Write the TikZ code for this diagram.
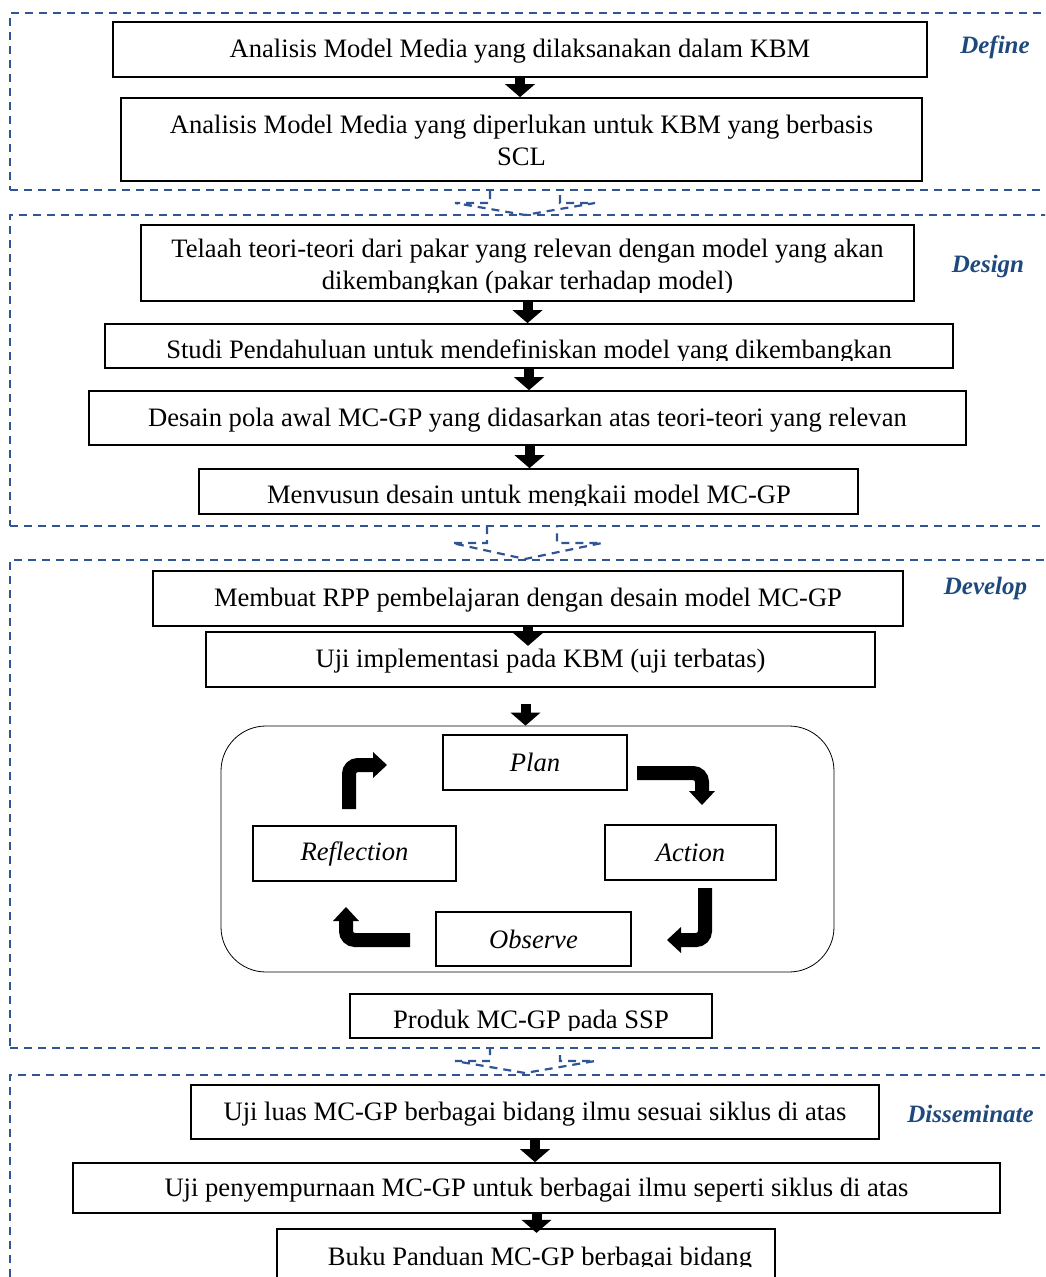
\documentclass[tikz,border=0pt]{standalone}
\usepackage{fontspec}
\setmainfont{Liberation Serif}
\usetikzlibrary{arrows.meta,calc}
\definecolor{phase}{RGB}{47,85,151}
\definecolor{phasetext}{RGB}{31,73,125}
\begin{document}
\begin{tikzpicture}[x=1pt,y=-1pt,
  font=\fontsize{26.6pt}{32pt}\selectfont,
  phasebox/.style={draw=phase, line width=2.2pt, dash pattern=on 8pt off 6pt,
    rectangle, inner sep=0pt, outer sep=0pt, anchor=north west},
  phaseline/.style={draw=phase, line width=2.2pt, dash pattern=on 8pt off 6pt},
  stepbox/.style={draw, line width=1.7pt, rectangle, inner sep=0pt, fill=white,
    text height=18pt, text depth=2pt},
  cyclebox/.style={draw, line width=1.3pt, rectangle, inner sep=0pt, fill=white,
    font=\fontsize{26.6pt}{32pt}\selectfont\itshape},
  txt/.style={inner sep=0pt, anchor=base},
  lbl/.style={inner sep=0pt, anchor=base, text=phasetext,
    font=\fontsize{25pt}{30pt}\selectfont\bfseries\itshape},
  conn/.style={line width=10pt, -{Triangle[width=30pt,length=13pt,line width=0pt]}},
  bent/.style={line width=14pt, rounded corners=9pt,
    -{Triangle[width=26pt,length=14pt,line width=0pt]}}]

\useasboundingbox (0,0) rectangle (1045,1277);
\clip (0,0) rectangle (1045,1277);

% ---------- phase frames ----------
\node[phasebox, minimum width=1050pt, minimum height=177pt] (sdef) at (10,13) {};
\node[phasebox, minimum width=1050pt, minimum height=311pt] (sdes) at (10,215) {};
\node[phasebox, minimum width=1050pt, minimum height=488pt] (sdev) at (10,560) {};
\node[phasebox, minimum width=1050pt, minimum height=240pt] (sdis) at (10,1075) {};

% phase labels
\node[lbl] (ldef) at (995,53) {Define};
\node[lbl] (ldes) at (988,272) {Design};
\node[lbl] (ldev) at (985.5,594) {Develop};
\node[lbl] (ldis) at (970.5,1122) {Disseminate};

% hollow dashed arrows between phases
\coordinate (p1) at (525,191);  \coordinate (p1t) at (525,215);
\coordinate (p2) at (522,526);  \coordinate (p2t) at (525,559);
\coordinate (p3) at (525,1047); \coordinate (p3t) at (525,1073);
\draw[phaseline] ($(p1)+(-35,0)$) -- ($(p1)+(-35,12)$) -- ($(p1)+(-70,12)$) -- (p1t)
  -- ($(p1)+(70,12)$) -- ($(p1)+(35,12)$) -- ($(p1)+(35,0)$);
\draw[phaseline] ($(p2)+(-35,0)$) -- ($(p2)+(-35,17)$) -- ($(p2)+(-70,17)$) -- (p2t)
  -- ($(p2)+(80,17)$) -- ($(p2)+(35,17)$) -- ($(p2)+(35,0)$);
\draw[phaseline] ($(p3)+(-35,0)$) -- ($(p3)+(-35,14)$) -- ($(p3)+(-70,14)$) -- (p3t)
  -- ($(p3)+(70,14)$) -- ($(p3)+(35,14)$) -- ($(p3)+(35,0)$);

% ---------- Define ----------
\node[stepbox, minimum width=814pt, minimum height=55pt] (b1) at (520,49.5)
  {Analisis Model Media yang dilaksanakan dalam KBM};
\node[stepbox, minimum width=801pt, minimum height=83pt] (b2) at (521.5,139.5) {};
\node[txt] (t2a) at (521.5,133) {Analisis Model Media yang diperlukan untuk KBM yang berbasis};
\node[txt] (t2b) at (521.5,165) {SCL};

% ---------- Design ----------
\node[stepbox, minimum width=773pt, minimum height=76pt] (b3) at (527.5,263) {};
\begin{scope}
  \clip (b3.north west) rectangle ([yshift=9pt]b3.south east);
  \node[txt] (t3a) at (527.5,257) {Telaah teori-teori dari pakar yang relevan dengan model yang akan};
  \node[txt] (t3b) at (527.5,289) {dikembangkan (pakar terhadap model)};
\end{scope}

\node[stepbox, minimum width=848pt, minimum height=44pt] (b4) at (529,346) {};
\begin{scope}
  \clip (b4.north west) rectangle ([yshift=8pt]b4.south east);
  \node[txt] (t4) at (529,358) {Studi Pendahuluan untuk mendefiniskan model yang dikembangkan};
\end{scope}

\node[stepbox, minimum width=877pt, minimum height=54pt] (b5) at (527.5,418)
  {Desain pola awal MC-GP yang didasarkan atas teori-teori yang relevan};

\node[stepbox, minimum width=659pt, minimum height=45pt] (b6) at (528.5,491.5) {};
\begin{scope}
  \clip (b6.north west) rectangle ([yshift=9pt]b6.south east);
  \node[txt] (t6) at (529,503) {Menvusun desain untuk mengkaii model MC-GP};
\end{scope}

\draw[conn] (b1.south) -- (b1.south |- b2.north);
\draw[conn] (b3.south) -- (b3.south |- b4.north);
\draw[conn] (b4.south) -- (b4.south |- b5.north);
\draw[conn] ([xshift=2pt]b5.south) -- ([xshift=2pt]b5.south |- b6.north);

% ---------- Develop ----------
\node[stepbox, minimum width=750pt, minimum height=55pt] (b7) at (528,598.5)
  {Membuat RPP pembelajaran dengan desain model MC-GP};
\node[stepbox, minimum width=669pt, minimum height=55pt] (b8) at (540.5,659.5)
  {Uji implementasi pada KBM (uji terbatas)};
\draw[conn] (b7.south) -- ++(0,19);

\node[draw, line width=0.8pt, rounded corners=45pt, minimum width=613pt,
  minimum height=246pt, inner sep=0pt] (cyc) at (527.5,849) {};
\draw[conn] ([yshift=22pt,xshift=-2pt]cyc.north) -- ([xshift=-2pt]cyc.north);

\node[cyclebox, minimum width=184pt, minimum height=55pt] (plan) at (535,762.5) {Plan};
\node[cyclebox, minimum width=171pt, minimum height=55pt] (action) at (690.5,852.5) {Action};
\node[cyclebox, minimum width=203pt, minimum height=55pt] (refl) at (354.5,853.5) {Reflection};
\node[cyclebox, minimum width=195pt, minimum height=54pt] (obs) at (533.5,939) {Observe};

% cycle arrows
\coordinate (c1s) at (349,809);  \coordinate (c1e) at (387,765);
\coordinate (c2s) at (637,773);  \coordinate (c2e) at (702,805);
\coordinate (c3s) at (705,888);  \coordinate (c3e) at (667,940);
\coordinate (c4s) at (410,940);  \coordinate (c4e) at (346,907);
\draw[bent] (c1s) |- (c1e);
\draw[bent] (c2s) -| (c2e);
\draw[bent] (c3s) |- (c3e);
\draw[bent] (c4s) -| (c4e);

\node[stepbox, minimum width=362pt, minimum height=44pt] (b9) at (531,1016) {};
\begin{scope}
  \clip (b9.north west) rectangle ([yshift=8pt]b9.south east);
  \node[txt] (t9) at (531,1028) {Produk MC-GP pada SSP};
\end{scope}

% ---------- Disseminate ----------
\node[stepbox, minimum width=688pt, minimum height=54pt] (b10) at (535,1112)
  {Uji luas MC-GP berbagai bidang ilmu sesuai siklus di atas};
\node[stepbox, minimum width=927pt, minimum height=50pt] (b11) at (536.5,1188)
  {Uji penyempurnaan MC-GP untuk berbagai ilmu seperti siklus di atas};
\node[stepbox, minimum width=498pt, minimum height=61pt] (b12) at (526,1259.5) {};
\begin{scope}
  \clip (b12.north west) rectangle ([yshift=-38pt]b12.north east);
  \node[txt] (t12) at (540,1265) {Buku Panduan MC-GP berbagai bidang};
\end{scope}

\draw[conn] (b10.south) -- (b10.south |- b11.north);
\draw[conn] (b11.south) -- ++(0,19);

\end{tikzpicture}
\end{document}
